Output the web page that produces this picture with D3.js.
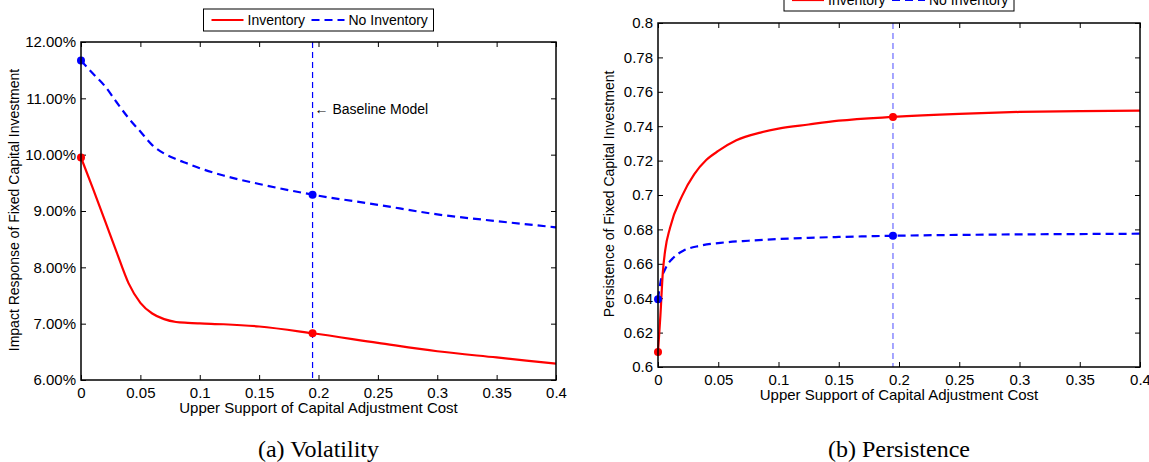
<!DOCTYPE html>
<html>
<head>
<meta charset="utf-8">
<script src="https://cdn.jsdelivr.net/npm/d3@7"></script>
<style>
  body { margin: 0; background: #fff; }
  svg { display: block; }
  text { font-family: "Liberation Sans", Arial, sans-serif; fill: #000; }
  .caption { font-family: "Liberation Serif", "DejaVu Serif", serif; }
</style>
</head>
<body>
<svg width="1149" height="462"></svg>
<script>
// x grid of the adjustment-cost parameter
const volX = [0, 0.01, 0.02, 0.03, 0.04, 0.05, 0.06, 0.07, 0.08, 0.09, 0.1, 0.12, 0.15, 0.195, 0.25, 0.3, 0.35, 0.4];
// (a) volatility, impact response in %
const volInventory   = [9.95, 9.40, 8.84, 8.27, 7.72, 7.37, 7.18, 7.08, 7.03, 7.015, 7.005, 6.99, 6.95, 6.83, 6.66, 6.51, 6.40, 6.29];
const volNoInventory = [11.67, 11.44, 11.22, 10.93, 10.65, 10.41, 10.17, 10.02, 9.92, 9.84, 9.76, 9.63, 9.48, 9.29, 9.11, 8.94, 8.82, 8.71];

// (b) persistence
const perInvX = [0, 0.002, 0.004, 0.006, 0.01, 0.02, 0.03, 0.04, 0.05, 0.065, 0.085, 0.1, 0.125, 0.15, 0.195, 0.25, 0.3, 0.35, 0.4];
const perInventory = [0.6087, 0.630, 0.655, 0.668, 0.681, 0.6995, 0.712, 0.7203, 0.7256, 0.7318, 0.7363, 0.7386, 0.741, 0.7432, 0.7454, 0.7472, 0.7483, 0.7488, 0.7491];
const perNoInvX = [0, 0.002, 0.006, 0.013, 0.021, 0.035, 0.055, 0.075, 0.1, 0.125, 0.15, 0.195, 0.25, 0.3, 0.35, 0.4];
const perNoInventory = [0.6394, 0.649, 0.657, 0.6637, 0.6676, 0.6705, 0.6724, 0.6734, 0.6744, 0.6751, 0.6756, 0.6763, 0.6768, 0.6771, 0.6773, 0.6775];

const baseline = 0.195;
const xTicks = [0, 0.05, 0.1, 0.15, 0.2, 0.25, 0.3, 0.35, 0.4];
const volTicks = [6, 7, 8, 9, 10, 11, 12];
const perTicks = [0.6, 0.62, 0.64, 0.66, 0.68, 0.7, 0.72, 0.74, 0.76, 0.78, 0.8];
const seriesNames = ["Inventory", "No Inventory"];

const svg = d3.select('svg');

function drawPanel(p) {
    const g = svg.append('g');
    const x = d3.scaleLinear().domain([0, 0.4]).range([p.left, p.right]);
    const y = d3.scaleLinear().domain(p.yDomain).range([p.bottom, p.top]);

    // ticks inside on all four sides, matlab style
    const tl = 5;
    g.append('g').attr('transform', `translate(0,${p.bottom})`)
        .call(d3.axisBottom(x).tickValues(xTicks).tickSizeInner(-tl).tickSizeOuter(0).tickPadding(7).tickFormat(d3.format('~g')))
        .call(a => a.select('.domain').remove());
    g.append('g').attr('transform', `translate(0,${p.top})`)
        .call(d3.axisTop(x).tickValues(xTicks).tickSizeInner(-tl).tickSizeOuter(0).tickFormat(''))
        .call(a => a.select('.domain').remove());
    g.append('g').attr('transform', `translate(${p.left},0)`)
        .call(d3.axisLeft(y).tickValues(p.yTicks).tickSizeInner(-tl).tickSizeOuter(0).tickPadding(5).tickFormat(p.yFormat))
        .call(a => a.select('.domain').remove());
    g.append('g').attr('transform', `translate(${p.right},0)`)
        .call(d3.axisRight(y).tickValues(p.yTicks).tickSizeInner(-tl).tickSizeOuter(0).tickFormat(''))
        .call(a => a.select('.domain').remove());
    g.selectAll('.tick text').style('font-size', '15px').style('font-family', '"Liberation Sans", Arial, sans-serif');
    g.selectAll('.tick line').attr('stroke', '#000');

    // baseline marker
    g.append('line')
        .attr('x1', x(baseline)).attr('x2', x(baseline))
        .attr('y1', p.top).attr('y2', p.bottom)
        .attr('stroke', p.vColor).attr('stroke-width', 1.2)
        .attr('stroke-dasharray', '6,4');

    const line = (xs) => d3.line()
        .x((d, i) => x(xs[i]))
        .y(d => y(d))
        .curve(d3.curveMonotoneX);

    g.append('path').attr('d', line(p.noX)(p.noY))
        .attr('fill', 'none').attr('stroke', '#0000ff').attr('stroke-width', 2.2)
        .attr('stroke-dasharray', '8,5');
    g.append('path').attr('d', line(p.invX)(p.invY))
        .attr('fill', 'none').attr('stroke', '#ff0000').attr('stroke-width', 2.2);

    // markers at zero and baseline
    const dots = [
        { xv: p.invX[0], yv: p.invY[0], c: '#ff0000' },
        { xv: baseline, yv: p.invY[p.invX.indexOf(baseline)], c: '#ff0000' },
        { xv: p.noX[0], yv: p.noY[0], c: '#0000ff' },
        { xv: baseline, yv: p.noY[p.noX.indexOf(baseline)], c: '#0000ff' }
    ];
    g.selectAll('circle.dot').data(dots).enter().append('circle')
        .attr('class', 'dot')
        .attr('cx', d => x(d.xv)).attr('cy', d => y(d.yv)).attr('r', 4)
        .attr('fill', d => d.c);

    // box
    g.append('rect')
        .attr('x', p.left).attr('y', p.top)
        .attr('width', p.right - p.left).attr('height', p.bottom - p.top)
        .attr('fill', 'none').attr('stroke', '#000').attr('stroke-width', 1.5);

    const cx = (p.left + p.right) / 2;
    g.append('text').attr('x', cx).attr('y', p.bottom + 33)
        .attr('text-anchor', 'middle').style('font-size', '15px')
        .text('Upper Support of Capital Adjustment Cost');
    g.append('text')
        .attr('transform', `translate(${p.yLabelX},${p.yLabelY}) rotate(-90)`)
        .attr('text-anchor', 'middle').attr('dy', '0.35em').style('font-size', '14px')
        .text(p.yLabel);
    g.append('text').attr('class', 'caption').attr('x', cx).attr('y', p.captionY)
        .attr('text-anchor', 'middle').style('font-size', '24px')
        .text(p.caption);

    // legend
    const lw = 230, lh = 22;
    const lg = g.append('g').attr('transform', `translate(${cx - lw / 2},${p.legendY})`);
    lg.append('rect').attr('width', lw).attr('height', lh)
        .attr('fill', '#fff').attr('stroke', '#000').attr('stroke-width', 1);
    lg.append('line').attr('x1', 8).attr('x2', 40).attr('y1', lh / 2).attr('y2', lh / 2)
        .attr('stroke', '#ff0000').attr('stroke-width', 2.2);
    lg.append('text').attr('x', 44).attr('y', lh / 2).attr('dy', '0.35em')
        .style('font-size', '14px').text(seriesNames[0]);
    lg.append('line').attr('x1', 108).attr('x2', 141).attr('y1', lh / 2).attr('y2', lh / 2)
        .attr('stroke', '#0000ff').attr('stroke-width', 2.2).attr('stroke-dasharray', '8,5');
    lg.append('text').attr('x', 145).attr('y', lh / 2).attr('dy', '0.35em')
        .style('font-size', '14px').text(seriesNames[1]);

    return { g, x, y };
}

const left = drawPanel({
    left: 81, right: 556, top: 42, bottom: 380,
    yDomain: [6, 12], yTicks: volTicks, yFormat: d => d.toFixed(2) + '%',
    invX: volX, invY: volInventory, noX: volX, noY: volNoInventory,
    vColor: '#0000ff',
    yLabel: 'Impact Response of Fixed Capital Investment', yLabelX: 14, yLabelY: 210,
    caption: '(a) Volatility', captionY: 457, legendY: 9
});

// annotation
left.g.append('text')
    .attr('x', left.x(baseline) + 2).attr('y', 109).attr('dy', '0.35em')
    .style('font-size', '14px').text('\u2190 Baseline Model');

drawPanel({
    left: 658, right: 1140, top: 23, bottom: 367,
    yDomain: [0.6, 0.8], yTicks: perTicks, yFormat: d3.format('~g'),
    invX: perInvX, invY: perInventory, noX: perNoInvX, noY: perNoInventory,
    vColor: '#6a6aff',
    yLabel: 'Persistence of Fixed Capital Investment', yLabelX: 609, yLabelY: 194,
    caption: '(b) Persistence', captionY: 457, legendY: -11
});
</script>
</body>
</html>
